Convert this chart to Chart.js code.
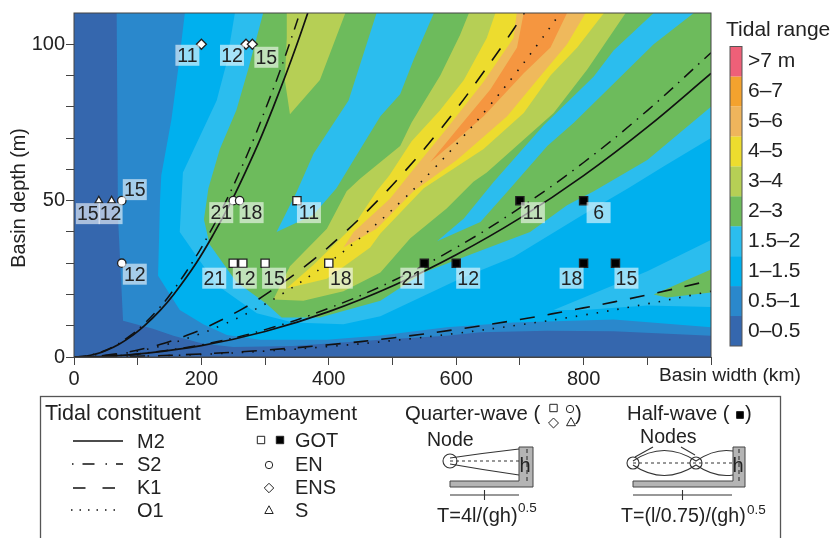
<!DOCTYPE html>
<html>
<head>
<meta charset="utf-8">
<style>
html,body{margin:0;padding:0;background:#fff}
#wrap{width:834px;height:538px;position:relative}
</style>
<script src="https://cdn.jsdelivr.net/npm/chart.js@4"></script>
</head>
<body>
<div id="wrap"><canvas id="myChart" width="834" height="538"></canvas></div>
<script>
const rangeLabels = ["0–0.5","0.5–1","1–1.5","1.5–2","2–3","3–4","4–5","5–6","6–7",">7 m"]
const rangeColors = ["#3567ae","#2a88cc","#00b0ee","#2bbdee","#6dbb5c","#b6cf55","#eddc2e","#efb95c","#f59640","#ee6078"]
const keyColors = ["#3567ae","#2a88cc","#00b0ee","#2bbdee","#6dbb5c","#b6cf55","#eddc2e","#efb55c","#f3a22e","#ee6078"]

// filled tidal range areas, painted low to high, [basin width, basin depth]
const areaBase = [[0,0],[1000,0],[1000,110],[0,110]]
const area05 = [[67,110],[69,45],[77,11.6],[124,9],[156,6.8],[203,4.2],[250,3.2],[344,3.5],[481,5.5],[585,6.8],[638,7.9],[743,8.4],[847,8.2],[1000,6.8],[1000,110]]
const area1 = [[174,110],[163.5,92],[153,76],[137,58],[135,50],[132,26],[166,15],[203,10.5],[240,7],[292,5.5],[397,5.5],[481,6.9],[585,9.5],[690,11],[847,12],[1000,9.5],[1000,110]]
const area15 = [[252.6,110],[239.5,94],[224,82],[171,59],[166,40],[224,23],[287,14],[344,11],[423,10.5],[481,13],[606,25],[690,32],[795,45],[870,54],[926,61],[1000,70],[1000,110]]
const area15Low = [[753,15],[900,27.4],[1000,37.4],[1000,16],[900,16.5],[800,15]]
const area2 = [[297,110],[273.5,92],[255,79],[229,66.5],[211,54],[204,44],[213,36],[255,24],[302,17],[326,12.6],[386,12.6],[481,18],[549,27],[638,34],[716,40],[774,48.5],[816,53],[900,63],[1000,80],[1000,110]]
const hole15Left = [[475,110],[431,82],[376,65],[350,53],[318,40],[376,45.5],[412,54],[439,63],[481,77],[512,84],[533,95],[565,110]]
const hole15Right = [[570,37],[612,44.3],[659,56],[737,74],[816,89.7],[847,98],[910,110],[973,110],[910,100],[785,75],[743,67.5],[685,54],[638,43.2]]
const area3 = [[620,110],[606,103],[575,90],[530,75],[512,67.5],[449,57],[428,53],[397,41],[339,29],[313,18.4],[360,18],[423,21],[481,27],[528,38],[585,47.5],[627,56],[648,59],[753,78],[806,92],[866,110]]
const area3Top = [[334,110],[334,102],[331,88.6],[339,77.6],[386,88.6],[426,110]]
const area2Wedge = [[910,20],[1000,28],[1000,20.6],[931,19]]
const area4 = [[661.5,110],[648,102],[612,88.6],[575,79],[530,69],[495,58],[475,53],[439,42],[376,29.5],[334,22],[397,25],[465,35],[481,39.5],[549,54],[643,66.5],[706,78],[748,90],[790,99],[832,110]]
const area5 = [[695,110],[690,102],[643,88],[585,73],[533,60],[496,50.6],[439,40],[423,35],[475,41],[501,46.4],[533,53],[601,63],[680,77],[727,88.6],[774,100],[803,110]]
const area6 = [[706,110],[695.5,99],[653.6,85.5],[606.5,74],[559,62.3],[596,68.6],[643,77],[706,90.7],[748,99],[774,110]]

// resonance curves
const m2Quarter = [[0,0],[17.5,0.25],[35,1],[49.5,2],[70,4],[92.6,7],[110.7,10],[135.6,15],[156.5,20],[191.7,30],[221,40],[247.5,50],[271,60],[293,70],[313,80],[332,90],[350,100],[367,110]]
const s2Quarter = [[0,0],[17,0.25],[33.8,1],[47.8,2],[67.6,4],[89.4,7],[106.9,10],[130.9,15],[151,20],[185,30],[213.8,40],[239,50],[261.8,60],[282.8,70],[302,80],[320.7,90],[338,100],[354.5,110]]
const k1Quarter = [[0,0],[33.7,0.25],[67.4,1],[95.3,2],[134.8,4],[178.3,7],[213,10],[261,15],[301,20],[369,30],[426,40],[476.6,50],[522,60],[564,70],[603,80],[639,90],[674,100],[707,110]]
const o1Quarter = [[0,0],[36.4,0.25],[72.8,1],[103,2],[145.6,4],[192.6,7],[230,10],[282,15],[325.6,20],[398.7,30],[460.4,40],[514.8,50],[564,60],[609,70],[651,80],[690.6,90],[728,100],[763.5,110]]
const m2Half = [[0,0],[50,0.23],[100,0.91],[200,3.63],[300,8.16],[400,14.5],[500,22.7],[600,32.7],[700,44.4],[800,58],[900,73.5],[1000,90.7]]
const s2Half = [[0,0],[50,0.24],[100,0.97],[200,3.89],[300,8.75],[400,15.6],[500,24.3],[600,35],[700,47.7],[800,62.2],[900,78.8],[1000,97.3]]
const k1Half = [[0,0],[100,0.245],[200,0.98],[300,2.2],[400,3.9],[500,6.1],[600,8.8],[700,12],[800,15.7],[900,19.85],[1000,24.5]]
const o1Half = [[0,0],[100,0.21],[200,0.84],[300,1.89],[400,3.35],[500,5.24],[600,7.55],[700,10.3],[800,13.4],[900,17],[1000,21]]

// embayments
const gotOpen = [[350,50],[250,30],[265,30],[300,30],[400,30]]
const gotOpenNames = ["11","21","12","15","18"]
const gotFilled = [[700,50],[800,50],[550,30],[600,30],[800,30],[850,30]]
const gotFilledNames = ["11","6","21","12","18","15"]
const enPoints = [[75,50],[75,30],[250,50],[260,50]]
const enNames = ["15","12","21","18"]
const ensPoints = [[200,100],[270,100],[280,100]]
const ensNames = ["11","12","15"]
const sPoints = [[39,50],[59,50]]
const sNames = ["15","12"]

const FONT = '"Liberation Sans", Arial, sans-serif'
const INK = "#222"

function areaSet(points, color, i){
    return {data: points, showLine: true, fill: "shape", backgroundColor: color, borderWidth: 0, pointRadius: 0, tension: 0, order: 100 - i}
}
function curveSet(points, dash, width){
    return {data: points, showLine: true, fill: false, borderColor: "#111", borderWidth: width, borderDash: dash, pointRadius: 0, tension: 0.4, order: 20}
}
function markerSet(points, style, radius, fillCol){
    return {data: points, showLine: false, pointStyle: style, pointRadius: radius, pointBackgroundColor: fillCol, pointBorderColor: "#222", pointBorderWidth: 1.3, order: 1}
}

const dashS2 = [12,7,1.5,7]
const dashK1 = [15,13]
const dashO1 = [1.5,9]

const areas = [[areaBase,0],[area05,1],[area1,2],[area15,3],[area15Low,3],[area2,4],[hole15Left,3],[hole15Right,3],[area3,5],[area3Top,5],[area2Wedge,4],[area4,6],[area5,7],[area6,8]]
const datasets = areas.map((a,i)=>areaSet(a[0],rangeColors[a[1]],i))
datasets.push(curveSet(m2Quarter,[],1.7),curveSet(s2Quarter,dashS2,1.5),curveSet(k1Quarter,dashK1,1.6),curveSet(o1Quarter,dashO1,1.6))
datasets.push(curveSet(m2Half,[],1.7),curveSet(s2Half,dashS2,1.5),curveSet(k1Half,dashK1,1.6),curveSet(o1Half,dashO1,1.6))
datasets.push(markerSet(gotOpen,"rect",5.8,"#fff"),markerSet(gotFilled,"rect",5.8,"#000"),markerSet(enPoints,"circle",4.2,"#fff"),markerSet(ensPoints,"rectRot",5,"#fff"),markerSet(sPoints,"triangle",4.4,"#fff"))

// label box offset from its marker, pixels
const labelSets = [
    [gotOpen,gotOpenNames,[[12,12],[-19,15],[2,15],[9,15],[12,15]]],
    [gotFilled,gotFilledNames,[[13,12],[15,12],[-12,15],[12,15],[-12,15],[11,15]]],
    [enPoints,enNames,[[13,-11],[13,11],[-12,12],[12,12]]],
    [ensPoints,ensNames,[[-14,11],[-14,11],[14,13]]],
    [sPoints,sNames,[[-11,13],[-1,13]]]
]

function txt(ctx, s, x, y, size, align){
    ctx.font = size + "px " + FONT
    ctx.fillStyle = INK
    ctx.textAlign = align || "left"
    ctx.textBaseline = "middle"
    ctx.fillText(s, x, y)
}
function sample(ctx, x1, x2, y, dash){
    ctx.save()
    ctx.strokeStyle = "#111"
    ctx.lineWidth = 1.5
    ctx.setLineDash(dash)
    ctx.beginPath(); ctx.moveTo(x1,y); ctx.lineTo(x2,y); ctx.stroke()
    ctx.restore()
}
function glyph(ctx, kind, x, y, r, filled){
    ctx.save()
    ctx.strokeStyle = "#222"
    ctx.lineWidth = 1
    ctx.fillStyle = filled ? "#000" : "#fff"
    ctx.beginPath()
    if (kind == "square") ctx.rect(x-r,y-r,2*r,2*r)
    if (kind == "circle") ctx.arc(x,y,r,0,Math.PI*2)
    if (kind == "diamond"){ ctx.moveTo(x,y-r*1.35); ctx.lineTo(x+r*1.35,y); ctx.lineTo(x,y+r*1.35); ctx.lineTo(x-r*1.35,y); ctx.closePath() }
    if (kind == "triangle"){ ctx.moveTo(x,y-r*1.2); ctx.lineTo(x+r*1.2,y+r); ctx.lineTo(x-r*1.2,y+r); ctx.closePath() }
    ctx.fill(); ctx.stroke()
    ctx.restore()
}
function dock(ctx, x1, wallX, wallR, top, base, bottom){
    ctx.save()
    ctx.fillStyle = "#b4b4b4"
    ctx.strokeStyle = "#444"
    ctx.lineWidth = 1
    ctx.beginPath()
    ctx.moveTo(x1,base); ctx.lineTo(wallX,base); ctx.lineTo(wallX,top); ctx.lineTo(wallR,top); ctx.lineTo(wallR,bottom); ctx.lineTo(x1,bottom); ctx.closePath()
    ctx.fill(); ctx.stroke()
    ctx.restore()
}
function thin(ctx, pts, dash){
    ctx.save()
    ctx.strokeStyle = "#333"
    ctx.lineWidth = 1.1
    ctx.setLineDash(dash || [])
    ctx.beginPath()
    ctx.moveTo(pts[0],pts[1])
    if (pts.length == 4) ctx.lineTo(pts[2],pts[3])
    else for (let i = 2; i < pts.length; i += 4) ctx.quadraticCurveTo(pts[i],pts[i+1],pts[i+2],pts[i+3])
    ctx.stroke()
    ctx.restore()
}
function ring(ctx, x, y, r){
    ctx.save()
    ctx.strokeStyle = "#333"
    ctx.lineWidth = 1.1
    ctx.beginPath(); ctx.arc(x,y,r,0,Math.PI*2); ctx.stroke()
    ctx.restore()
}

const extras = {
    id: "extras",
    afterDatasetsDraw(chart){
        const ctx = chart.ctx
        const xs = chart.scales.x, ys = chart.scales.y
        ctx.save()
        for (const set of labelSets){
            for (let i = 0; i < set[0].length; i++){
                const cx = xs.getPixelForValue(set[0][i][0]) + set[2][i][0]
                const cy = ys.getPixelForValue(set[0][i][1]) + set[2][i][1]
                ctx.fillStyle = "rgba(255,255,255,0.58)"
                ctx.fillRect(cx-12,cy-10.5,24,21)
            }
        }
        for (const set of labelSets){
            for (let i = 0; i < set[0].length; i++){
                const cx = xs.getPixelForValue(set[0][i][0]) + set[2][i][0]
                const cy = ys.getPixelForValue(set[0][i][1]) + set[2][i][1]
                txt(ctx,set[1][i],cx,cy+1,19.5,"center")
            }
        }
        ctx.restore()
    },
    afterDraw(chart){
        const ctx = chart.ctx
        const a = chart.chartArea
        ctx.save()
        // plot frame
        ctx.strokeStyle = "#444"
        ctx.lineWidth = 1
        ctx.strokeRect(a.left,a.top,a.right-a.left,a.bottom-a.top)
        txt(ctx,"Basin width (km)",659,376,19.2)

        ctx.save()
        ctx.translate(20,198)
        ctx.rotate(-Math.PI/2)
        txt(ctx,"Basin depth (m)",0,0,19.8,"center")
        ctx.restore()

        // colour key
        txt(ctx,"Tidal range",726,30,21)
        for (let i = 0; i < keyColors.length; i++){
            const y = 316 - i*29.95
            ctx.fillStyle = keyColors[i]
            ctx.fillRect(730,y,12,30)
            txt(ctx,rangeLabels[i],748,y+15,21)
        }
        ctx.strokeStyle = "#555"
        ctx.strokeRect(730,46.5,12,299.5)

        // panel, runs off the bottom of the picture
        ctx.strokeStyle = "#555"
        ctx.lineWidth = 1.3
        ctx.strokeRect(40.5,396.5,740,150)

        txt(ctx,"Tidal constituent",45,414,21.5)
        sample(ctx,73,123,441,[])
        sample(ctx,72,123,464,[1.5,9,12,11])
        sample(ctx,73,115,488,[12.5,17])
        sample(ctx,71,116,510,[1.5,7])
        txt(ctx,"M2",137,442,20); txt(ctx,"S2",137,465,20); txt(ctx,"K1",137,488,20); txt(ctx,"O1",137,511,20)

        txt(ctx,"Embayment",245,414,21)
        glyph(ctx,"square",261,440,3.7,false)
        glyph(ctx,"square",280,440,3.7,true)
        glyph(ctx,"circle",269,465,3.7,false)
        glyph(ctx,"diamond",269,488,3.5,false)
        glyph(ctx,"triangle",269,510,3.5,false)
        txt(ctx,"GOT",295,441,20); txt(ctx,"EN",295,465,20); txt(ctx,"ENS",295,488,20); txt(ctx,"S",295,511,20)

        // quarter wave sketch
        txt(ctx,"Quarter-wave (",405,414,20.3)
        glyph(ctx,"square",553.5,408,3.7,false)
        glyph(ctx,"circle",570,409,3.7,false)
        glyph(ctx,"diamond",553.5,423,3.7,false)
        glyph(ctx,"triangle",571,422,3.7,false)
        txt(ctx,")",575,414,20.3)
        txt(ctx,"Node",427,441,19.5)
        dock(ctx,450,519,533,447,481,487)
        ring(ctx,450,461,7)
        thin(ctx,[450,461,523,461],[3,3])
        thin(ctx,[450,458,484,453,519,449])
        thin(ctx,[450,464,484,470,519,475])
        thin(ctx,[527,449,527,482],[4,3])
        txt(ctx,"h",525,466,20,"center")
        thin(ctx,[450,495,519,495])
        thin(ctx,[484.5,490,484.5,500])
        txt(ctx,"T=4l/(gh)",437,516,20)
        txt(ctx,"0.5",518,508,13.5)

        // half wave sketch
        txt(ctx,"Half-wave (",627,414,20.3)
        glyph(ctx,"square",740,415,3.4,true)
        txt(ctx,")",745,414,20.3)
        txt(ctx,"Nodes",640,438,19.6)
        dock(ctx,633,733,745,447,481,487)
        ring(ctx,633,463,6)
        ring(ctx,696,463,6)
        thin(ctx,[633,463,733,463],[3,3])
        thin(ctx,[633,461,664,440,696,461,715,448,733,451])
        thin(ctx,[633,465,664,486,696,465,715,478,733,475])
        thin(ctx,[653,447,635,457])
        thin(ctx,[681,447,695,455])
        thin(ctx,[739,449,739,482],[4,3])
        txt(ctx,"h",738,466,20,"center")
        thin(ctx,[633,495,732,495])
        thin(ctx,[682.5,490,682.5,500])
        txt(ctx,"T=(l/0.75)/(gh)",621,517,19.6)
        txt(ctx,"0.5",747,510,13.5)
        ctx.restore()
    }
}

new Chart("myChart", {
    type: "scatter",
    data: {datasets: datasets},
    plugins: [extras],
    options: {
        responsive: false,
        animation: false,
        events: [],
        layout: {padding: {left: 0, right: 123, top: 10, bottom: 141}},
        plugins: {legend: {display: false}, tooltip: {enabled: false}},
        scales: {
            x: {
                type: "linear", min: 0, max: 1000,
                afterFit(s){ s.height = 40 },
                grid: {drawOnChartArea: false, tickLength: 8, color: "#444", tickColor: "#444"},
                border: {color: "#444"},
                ticks: {
                    stepSize: 100, autoSkip: false, maxRotation: 0, padding: 2,
                    color: INK, font: {family: FONT, size: 20},
                    callback: v => (v % 200 == 0 && v < 1000) ? v : ""
                }
            },
            y: {
                type: "linear", min: 0, max: 110,
                afterFit(s){ s.width = 74 },
                grid: {drawOnChartArea: false, tickLength: 8, color: "#444", tickColor: c => c.tick && c.tick.value == 110 ? "rgba(0,0,0,0)" : "#444"},
                border: {color: "#444"},
                ticks: {
                    stepSize: 10, autoSkip: false, padding: 1,
                    color: INK, font: {family: FONT, size: 20},
                    callback: v => (v == 0 || v == 50 || v == 100) ? v : ""
                }
            }
        }
    }
})
</script>
</body>
</html>
